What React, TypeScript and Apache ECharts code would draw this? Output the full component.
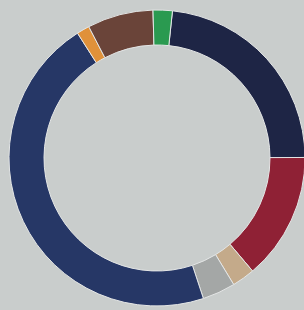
import React, { useEffect, useRef } from "react";
import * as echarts from "echarts";

const categories = ["Navy", "Red", "Tan", "Grey", "Blue", "Orange", "Brown", "Green"];
const values = [23.3, 13.9, 2.5, 3.6, 46.1, 1.4, 7.2, 2.1];
const colors = ["#1e2545", "#8f2135", "#c4aa8a", "#a4a7a6", "#263766", "#e0913a", "#6a4439", "#2a9a50"];

export default function App() {
  const ref = useRef<HTMLDivElement>(null);
  useEffect(() => {
    const chart = echarts.init(ref.current!, null, { renderer: "svg" });
    chart.setOption({
      animation: false,
      backgroundColor: "#c9cdcc",
      series: [
        {
          type: "pie",
          center: [157, 158],
          radius: [113, 148],
          startAngle: 84,
          clockwise: true,
          label: { show: false },
          labelLine: { show: false },
          itemStyle: { borderColor: "#e4e6e6", borderWidth: 1 },
          data: categories.map((name, i) => ({
            name,
            value: values[i],
            itemStyle: { color: colors[i] },
          })),
        },
      ],
    });
    return () => chart.dispose();
  }, []);
  return (
    <div
      ref={ref}
      style={{ position: "fixed", left: 0, top: 0, width: 304, height: 310 }}
    />
  );
}
